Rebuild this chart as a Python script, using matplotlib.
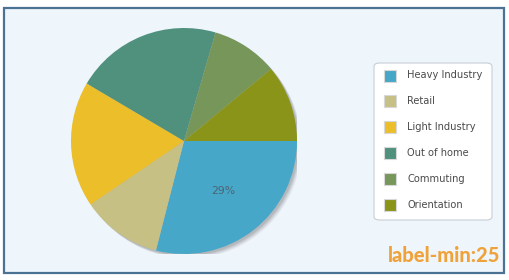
import matplotlib
matplotlib.use("Agg")
import matplotlib.pyplot as plt
from matplotlib.patches import FancyBboxPatch, Rectangle, Circle
import math

categories = ["Heavy Industry", "Retail", "Light Industry", "Out of home", "Commuting", "Orientation"]
values = [29, 11.5, 18, 21, 9.5, 11]
colors = ["#47A7C8", "#C7C085", "#EBBE2A", "#4F917D", "#77965A", "#8A9418"]
label_min = 25
title = "label-min:25"

W, H = 509, 280
fig = plt.figure(figsize=(W / 100, H / 100), dpi=100)
fig.patch.set_facecolor("white")

def fx(x):
    return x / W

def fy(y):
    return 1 - y / H

# frame
frame = Rectangle((fx(4), fy(273)), fx(504) - fx(4), fy(8) - fy(273), transform=fig.transFigure,
                  facecolor="#EEF5FB", edgecolor="#4B7293", linewidth=1.6, zorder=-5)
fig.patches.append(frame)

# pie axes
cx, cy, r = 184, 141, 113
ax = fig.add_axes([fx(cx - r), fy(cy + r), 2 * r / W, 2 * r / H])
ax.set_zorder(2)
ax.axis("off")
ax.patch.set_alpha(0)

# shadow
for i, a in enumerate([0.07, 0.09, 0.11, 0.13]):
    off = 0.04 - i * 0.008
    ax.add_patch(Circle((off, -off), 1.0, facecolor="#4A4A4A", edgecolor="none", alpha=a, zorder=1))

total = sum(values)
wedges, texts = ax.pie(values, colors=colors, startangle=0, counterclock=False, radius=1.0,
                       wedgeprops=dict(linewidth=0))
for w in wedges:
    w.set_zorder(2)
ax.set_xlim(-1, 1)
ax.set_ylim(-1, 1)
ax.set_aspect("equal")

ang = 0
for v in values:
    pct = v / total * 100
    mid = ang + v / total * 180
    ang += v / total * 360
    if pct >= label_min:
        t = math.radians(-mid)
        ax.text(0.56 * math.cos(t), 0.56 * math.sin(t), f"{pct:.0f}%", ha="center", va="center",
                fontsize=7.8, color="#4F6272", family="DejaVu Sans", zorder=3)

# legend
lg = FancyBboxPatch((fx(374), fy(220)), fx(492) - fx(374), fy(63) - fy(220),
                    boxstyle="round,pad=0,rounding_size=0.012", transform=fig.transFigure,
                    facecolor="white", edgecolor="#C8CED4", linewidth=0.8, zorder=1)
fig.patches.append(lg)
for i, (lab, c) in enumerate(zip(categories, colors)):
    yc = 75.5 + i * 25.8
    sq = Rectangle((fx(384), fy(yc + 6)), 12 / W, 12 / H, transform=fig.transFigure,
                   facecolor=c, edgecolor="#D8D8D8", linewidth=0.8, zorder=2)
    fig.patches.append(sq)
    fig.text(fx(407), fy(yc), lab, ha="left", va="center", fontsize=7.1, color="#4A4A4A",
             family="DejaVu Sans", zorder=3)

fig.text(fx(500), fy(262), title, ha="right", va="baseline", fontsize=14.5, fontweight="black",
         color="#F0A23A", family="Lato", zorder=3)

fig.savefig("out.png", dpi=100, facecolor=fig.get_facecolor())
